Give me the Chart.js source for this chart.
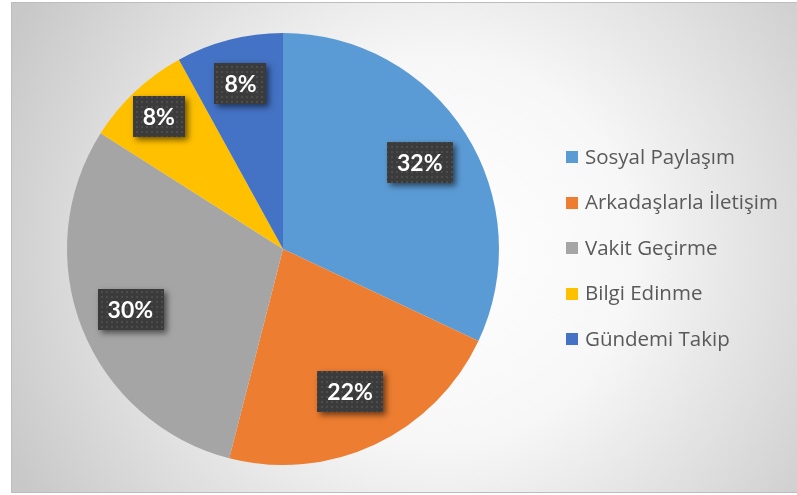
<!DOCTYPE html>
<html>
<head>
<meta charset="utf-8">
<script src="https://cdn.jsdelivr.net/npm/chart.js@4/dist/chart.umd.min.js"></script>
<style>
  html, body { margin: 0; padding: 0; background: #ffffff; }
  #wrap { width: 797px; height: 495px; position: relative; }
</style>
</head>
<body>
<div id="wrap"><canvas id="c" width="797" height="495"></canvas></div>
<script>
const categories = ["Sosyal Paylaşım", "Arkadaşlarla İletişim", "Vakit Geçirme", "Bilgi Edinme", "Gündemi Takip"];
const shares = [32, 22, 30, 8, 8];
const pctLabels = ["32%", "22%", "30%", "8%", "8%"];
const sliceColors = ["#5B9BD5", "#ED7D31", "#A5A5A5", "#FFC000", "#4472C4"];
const labelRadiusFactors = [0.75, 0.73, 0.76, 0.84, 0.79];

function makePattern(ctx) {
  const t = document.createElement('canvas');
  t.width = 5; t.height = 5;
  const c = t.getContext('2d');
  c.fillStyle = '#3b3b3b';
  c.fillRect(0, 0, 5, 5);
  c.fillStyle = '#4c4c4c';
  c.fillRect(1, 1, 2, 2);
  return ctx.createPattern(t, 'repeat');
}

const bgPlugin = {
  id: 'bg',
  beforeDraw(chart) {
    const ctx = chart.ctx;
    ctx.save();
    const g = ctx.createRadialGradient(440, 250, 0, 440, 250, 480);
    g.addColorStop(0, '#ffffff');
    g.addColorStop(0.4, '#f7f7f7');
    g.addColorStop(1, '#c8c8c8');
    ctx.fillStyle = g;
    ctx.fillRect(11, 2, 786, 491);
    ctx.strokeStyle = '#bdbdbd';
    ctx.lineWidth = 1;
    ctx.strokeRect(11.5, 2.5, 790, 490);
    ctx.restore();
  }
};

const labelPlugin = {
  id: 'pctLabels',
  afterDatasetsDraw(chart) {
    const ctx = chart.ctx;
    const meta = chart.getDatasetMeta(0);
    const pat = makePattern(ctx);
    ctx.save();
    ctx.font = 'bold 23px Lato, "Open Sans", sans-serif';
    ctx.textAlign = 'center';
    ctx.textBaseline = 'middle';
    meta.data.forEach((arc, i) => {
      const p = arc.getProps(['x', 'y', 'startAngle', 'endAngle', 'outerRadius'], true);
      const mid = (p.startAngle + p.endAngle) / 2;
      const r = p.outerRadius * labelRadiusFactors[i];
      const cx = p.x + Math.cos(mid) * r;
      const cy = p.y + Math.sin(mid) * r;
      const txt = pctLabels[i];
      const w = ctx.measureText(txt).width + 20;
      const h = 41;
      ctx.save();
      ctx.shadowColor = 'rgba(0,0,0,0.55)';
      ctx.shadowBlur = 6;
      ctx.shadowOffsetX = 3;
      ctx.shadowOffsetY = 3;
      ctx.fillStyle = '#3b3b3b';
      ctx.fillRect(Math.round(cx - w / 2), Math.round(cy - h / 2), Math.round(w), h);
      ctx.restore();
      ctx.fillStyle = pat;
      ctx.fillRect(Math.round(cx - w / 2), Math.round(cy - h / 2), Math.round(w), h);
      ctx.fillStyle = '#ffffff';
      ctx.fillText(txt, cx, cy + 1);
    });
    ctx.restore();
  }
};

const legendPlugin = {
  id: 'customLegend',
  afterDraw(chart) {
    const ctx = chart.ctx;
    ctx.save();
    ctx.font = '20.5px "Open Sans", Lato, sans-serif';
    ctx.textAlign = 'left';
    ctx.textBaseline = 'middle';
    const x0 = 566, y0 = 157, step = 45.5;
    chart.data.labels.forEach((lab, i) => {
      const y = y0 + i * step;
      ctx.fillStyle = chart.data.datasets[0].backgroundColor[i];
      ctx.fillRect(x0, Math.round(y - 6), 12, 12);
      ctx.fillStyle = '#595959';
      ctx.fillText(lab, x0 + 19, y + 1);
    });
    ctx.restore();
  }
};

new Chart(document.getElementById('c'), {
  type: 'pie',
  data: {
    labels: categories,
    datasets: [{
      data: shares,
      backgroundColor: sliceColors,
      borderWidth: 0,
      hoverOffset: 0
    }]
  },
  options: {
    responsive: false,
    animation: false,
    events: [],
    layout: { padding: { left: 67, right: 298, top: 33, bottom: 30 } },
    plugins: {
      legend: { display: false },
      tooltip: { enabled: false }
    }
  },
  plugins: [bgPlugin, labelPlugin, legendPlugin]
});
</script>
</body>
</html>
